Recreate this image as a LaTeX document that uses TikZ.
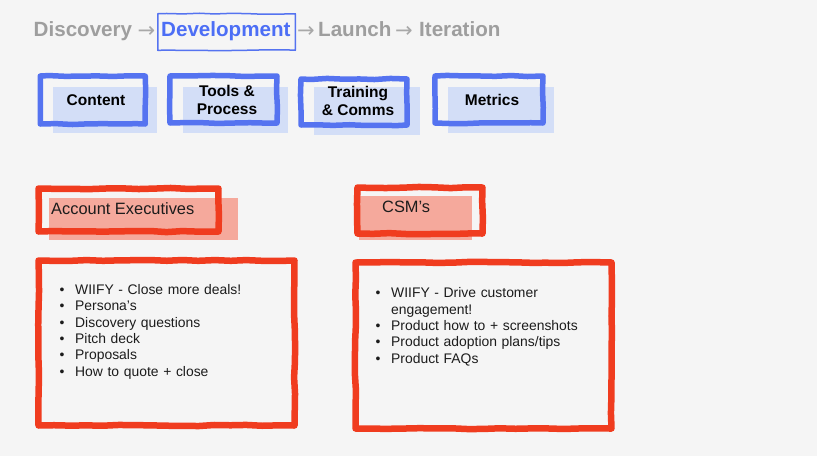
\documentclass[tikz,border=0pt]{standalone}
\usepackage{xcolor}
\usepackage{fontspec}
\setmainfont{Liberation Sans}
\newfontfamily\arrowfont{DejaVu Sans}
\usetikzlibrary{positioning}
\usetikzlibrary{decorations.pathmorphing}
\definecolor{bgcol}{HTML}{F5F5F5}
\definecolor{stagegray}{HTML}{9E9E9E}
\definecolor{stageblue}{HTML}{4C6EF5}
\definecolor{blueline}{HTML}{5573F0}
\definecolor{bluefill}{HTML}{D3DEF7}
\definecolor{redline}{HTML}{F03C1F}
\definecolor{redfill}{HTML}{F5A99C}
\definecolor{inkcol}{HTML}{1C1C1C}
\tikzstyle{stage} = [font=\fontsize{20.6}{24}\selectfont\bfseries, text=stagegray, inner sep=0pt, anchor=base west]
\tikzstyle{arr} = [font=\arrowfont\fontsize{21}{24}\selectfont, text=stagegray!90, inner sep=0pt, anchor=base west]
\tikzstyle{sketch} = [decorate, decoration={random steps, segment length=16pt, amplitude=0.6pt}, line join=round]
\tikzstyle{blueframe} = [draw=blueline, line width=5.5pt, sketch, inner sep=0pt]
\tikzstyle{bluefill} = [fill=bluefill, inner sep=0pt]
\tikzstyle{redframe} = [draw=redline, line width=6.5pt, sketch, inner sep=0pt]
\tikzstyle{redfill} = [fill=redfill, inner sep=0pt]
\tikzstyle{cardtxt} = [font=\fontsize{15.5}{18.5}\selectfont\bfseries, text=black, align=center, inner sep=0pt]
\tikzstyle{roletxt} = [font=\fontsize{16.4}{20}\selectfont, text=inkcol, inner sep=0pt, anchor=west]
\tikzstyle{listtxt} = [font=\fontsize{13.9}{16.4}\selectfont, text=inkcol, text width=235pt, align=left, inner sep=0pt, anchor=base west]
\newcommand{\bitem}{\makebox[15.5pt][l]{\textbullet}}
\pgfmathsetseed{11}

\begin{document}
\begin{tikzpicture}[x=1pt, y=-1pt]
  \fill[bgcol] (0,0) rectangle (817,456);
  \useasboundingbox (0,0) rectangle (817,456);

  \node[stage] (disc) at (33.5,36.7) {Discovery};
  \node[arr] (arr1) at (137.5,37) {→};
  \node[draw=blueline, line width=1.5pt, sketch, minimum width=137.5pt, minimum height=36.5pt, inner sep=0pt] (devbox) at (226.5,32) {};
  \node[stage, text=stageblue] (dev) at (161,36.7) {Development};
  \node[arr] (arr2) at (297,37) {→};
  \node[stage] (launch) at (318,36.7) {Launch};
  \node[arr] (arr3) at (395,37) {→};
  \node[stage] (iter) at (419,36.7) {Iteration};

  \node[bluefill, minimum width=104pt, minimum height=46pt] (contentbg) at (105,110) {};
  \node[blueframe, minimum width=105pt, minimum height=48pt] (content) at (92.75,100) {};
  \node[cardtxt] (contenttxt) at (96,100) {Content};
  \node[bluefill, minimum width=105pt, minimum height=46pt] (toolsbg) at (235.5,110) {};
  \node[blueframe, minimum width=107pt, minimum height=47pt] (tools) at (223.5,99.5) {};
  \node[cardtxt] (toolstxt) at (227,100) {Tools \&\\Process};
  \node[bluefill, minimum width=106pt, minimum height=48pt] (trainbg) at (367,111) {};
  \node[blueframe, minimum width=106pt, minimum height=46pt] (train) at (354,102) {};
  \node[cardtxt] (traintxt) at (358,101) {Training\\\& Comms};
  \node[bluefill, minimum width=106pt, minimum height=46pt] (metricsbg) at (501,110) {};
  \node[blueframe, minimum width=108pt, minimum height=47pt] (metrics) at (489,99.5) {};
  \node[cardtxt] (metricstxt) at (492,100) {Metrics};

  \node[redfill, minimum width=189pt, minimum height=42pt] (aebg) at (143.5,219) {};
  \node[redframe, minimum width=180pt, minimum height=43pt] (ae) at (128.5,210) {};
  \node[roletxt] (aetxt) at (51,209) {Account Executives};
  \node[redfill, minimum width=113pt, minimum height=44pt] (csmbg) at (415.5,218) {};
  \node[redframe, minimum width=125pt, minimum height=46pt] (csm) at (420,210.5) {};
  \node[roletxt] (csmtxt) at (382,207) {CSM’s};

  \node[redframe, minimum width=256pt, minimum height=165pt] (aelist) at (166.5,343) {};
  \node[listtxt] (aeitems) at (59.5,294.3) {\bitem WIIFY - Close more deals!\\
    \bitem Persona’s\\
    \bitem Discovery questions\\
    \bitem Pitch deck\\
    \bitem Proposals\\
    \bitem How to quote + close};
  \node[redframe, minimum width=256pt, minimum height=166pt] (csmlist) at (483.5,345.5) {};
  \node[listtxt] (csmitems) at (375.5,297.7) {\bitem WIIFY - Drive customer\\
    \hspace*{15.5pt}engagement!\\
    \bitem Product how to + screenshots\\
    \bitem Product adoption plans/tips\\
    \bitem Product FAQs};
\end{tikzpicture}
\end{document}
